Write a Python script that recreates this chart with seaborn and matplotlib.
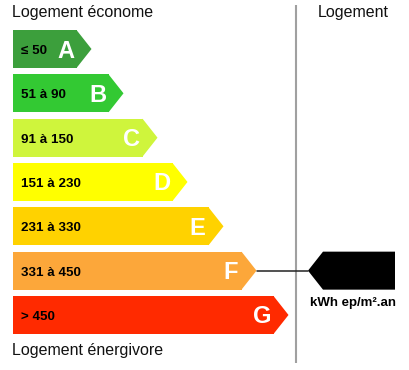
import matplotlib
matplotlib.use("Agg")
import matplotlib.pyplot as plt
import seaborn as sns
from matplotlib.patches import Polygon

# ---- data ----
grades = ["A", "B", "C", "D", "E", "F", "G"]
ranges = ["≤ 50", "51 à 90", "91 à 150", "151 à 230", "231 à 330", "331 à 450", "> 450"]
bar_length = [64, 96, 130, 160, 196, 229, 261]
colors = ["#3c9f3c", "#33c933", "#cff53c", "#ffff00", "#ffd200", "#fca73a", "#ff2a00"]
current_grade = "F"
title_top = "Logement économe"
title_bottom = "Logement énergivore"
right_title = "Logement"
unit_label = "kWh ep/m².an"

W, H = 409, 370
sns.set_theme(style="white")
plt.rcParams["font.family"] = ["Liberation Sans", "DejaVu Sans"]

fig = plt.figure(figsize=(W / 100, H / 100), dpi=100)
ax = fig.add_axes([0, 0, 1, 1])

X0 = 12.5      # left edge px
Y0 = 49.0      # center of first bar px
STEP = 44.33   # px per category
BAR_H = 38 / STEP
TIP = 15


def px(x, y):
    return x - X0, (y - Y0) / STEP


sns.barplot(x=bar_length, y=grades, hue=grades, palette=colors, orient="h",
            width=BAR_H, legend=False, ax=ax, linewidth=0, saturation=1)

ax.set_xlim(-X0, W - X0)
ax.set_ylim((H - Y0) / STEP, -Y0 / STEP)
ax.axis("off")

for i, (g, r, L, c) in enumerate(zip(grades, ranges, bar_length, colors)):
    tri = Polygon([(L, i - BAR_H / 2), (L + TIP, i), (L, i + BAR_H / 2)],
                  closed=True, facecolor=c, edgecolor="none")
    ax.add_patch(tri)
    cy = Y0 + i * STEP
    fig.text(21 / W, 1 - (cy + 5) / H, r, fontsize=9.6, fontweight="bold",
             color="black", va="baseline", ha="left")
    fig.text((X0 + L - 11) / W, 1 - (cy + 8.5) / H, g, fontsize=17,
             fontweight="bold", color="white", va="baseline", ha="center")

# headers
fig.text(12 / W, 1 - 17 / H, title_top, fontsize=11.5, va="baseline", ha="left", color="#111111")
fig.text(12 / W, 1 - 355 / H, title_bottom, fontsize=11.5, va="baseline", ha="left", color="#111111")
fig.text(353 / W, 1 - 17 / H, right_title, fontsize=11.5, va="baseline", ha="center", color="#111111")

# vertical separator
x1, y1 = px(295.5, 5)
x2, y2 = px(295.5, 363)
ax.plot([x1, x2], [y1, y2], color="#a0a0a0", lw=1.5, solid_capstyle="butt")

# current marker
ci = grades.index(current_grade)
cy_px = Y0 + ci * STEP
tip_x = X0 + bar_length[ci] + TIP
a, b = px(tip_x, cy_px)
c_, d = px(308, cy_px)
ax.plot([a, c_], [b, d], color="#222222", lw=1.1)
arrow = Polygon([px(308, cy_px), px(323, cy_px - 19), px(395, cy_px - 19),
                 px(395, cy_px + 19), px(323, cy_px + 19)],
                closed=True, facecolor="black", edgecolor="none")
ax.add_patch(arrow)
fig.text(353 / W, 1 - 306 / H, unit_label, fontsize=9.5, fontweight="bold",
         va="baseline", ha="center", color="black")

fig.savefig("out.png", dpi=100)
